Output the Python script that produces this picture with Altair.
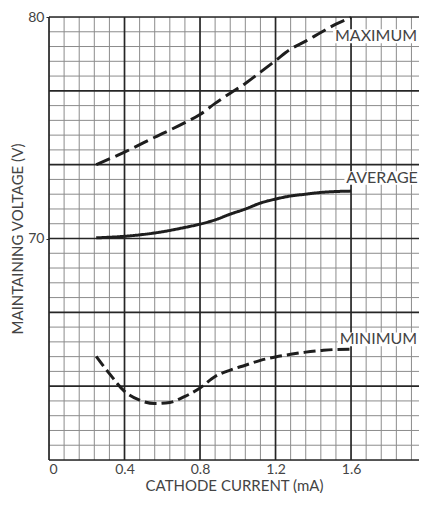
import altair as alt
import pandas as pd

# Curve data (cathode current mA, maintaining voltage V)
max_x = [0.25, 0.4, 0.56, 0.72, 0.8, 0.88, 0.96, 1.04, 1.12, 1.2, 1.28, 1.36, 1.44, 1.52, 1.6]
max_y = [73.33, 73.9, 74.57, 75.23, 75.6, 76.1, 76.56, 77.0, 77.51, 78.03, 78.55, 78.91, 79.3, 79.68, 79.97]

avg_x = [0.25, 0.4, 0.56, 0.72, 0.8, 0.88, 0.96, 1.04, 1.12, 1.2, 1.28, 1.36, 1.44, 1.52, 1.6]
avg_y = [70.03, 70.1, 70.25, 70.5, 70.65, 70.84, 71.1, 71.33, 71.6, 71.78, 71.92, 72.0, 72.08, 72.12, 72.14]

min_x = [0.25, 0.32, 0.4, 0.48, 0.56, 0.64, 0.72, 0.8, 0.88, 0.96, 1.04, 1.12, 1.2, 1.28, 1.36, 1.44, 1.52, 1.6]
min_y = [64.68, 63.9, 63.1, 62.7, 62.55, 62.6, 62.87, 63.25, 63.77, 64.06, 64.28, 64.5, 64.65, 64.77, 64.87, 64.94, 64.99, 65.0]

# Curve labels
label_text = ["MAXIMUM", "AVERAGE", "MINIMUM"]
label_x = [1.515, 1.575, 1.54]
label_y = [79.12, 72.74, 65.45]
box_x1 = [1.505, 1.565, 1.53]
box_x2 = [1.96, 1.96, 1.96]
box_y1 = [78.82, 72.43, 65.14]
box_y2 = [79.45, 73.04, 65.76]

# Grid and tick values
x_major = [0, 0.4, 0.8, 1.2, 1.6]
x_minor = [0.08, 0.16, 0.24, 0.32, 0.48, 0.56, 0.64, 0.72, 0.88, 0.96, 1.04, 1.12,
           1.28, 1.36, 1.44, 1.52, 1.68, 1.76, 1.84, 1.92]
y_major = [60, 63.333, 66.667, 70, 73.333, 76.667, 80]
y_minor = [60.667, 61.333, 62, 62.667, 64, 64.667, 65.333, 66, 67.333, 68, 68.667, 69.333,
           70.667, 71.333, 72, 72.667, 74, 74.667, 75.333, 76, 77.333, 78, 78.667, 79.333]
x_ticks = [0, 0.4, 0.8, 1.2, 1.6]
y_ticks = [70, 80]

FONT = "Lato"
INK = "#262626"
TXT = "#444444"

xs = alt.Scale(domain=[0, 1.96], nice=False, zero=False)
ys = alt.Scale(domain=[60, 80], nice=False, zero=False)

curves = pd.DataFrame(
    [{"x": a, "y": b, "s": "MAXIMUM", "o": i} for i, (a, b) in enumerate(zip(max_x, max_y))]
    + [{"x": a, "y": b, "s": "AVERAGE", "o": i} for i, (a, b) in enumerate(zip(avg_x, avg_y))]
    + [{"x": a, "y": b, "s": "MINIMUM", "o": i} for i, (a, b) in enumerate(zip(min_x, min_y))]
)
labels = pd.DataFrame({"t": label_text, "x": label_x, "y": label_y,
                       "bx1": box_x1, "bx2": box_x2, "by1": box_y1, "by2": box_y2})

x_axis = alt.Axis(values=x_ticks, grid=False, domain=False, ticks=False,
                  labelExpr="datum.value == 0 ? '0' : format(datum.value, '.1f')",
                  labelFont=FONT, labelFontSize=14, labelColor=TXT, labelPadding=2,
                  title="CATHODE CURRENT (mA)", titleFont=FONT, titleFontSize=15,
                  titleFontWeight="normal", titleColor=TXT, titlePadding=2)
y_axis = alt.Axis(values=y_ticks, grid=False, domain=False, ticks=True, tickSize=3,
                  tickColor=INK, format="d",
                  labelFont=FONT, labelFontSize=14, labelColor=TXT, labelPadding=2,
                  title="MAINTAINING VOLTAGE (V)", titleFont=FONT, titleFontSize=15,
                  titleFontWeight="normal", titleColor=TXT, titlePadding=2)


def X(field):
    return alt.X(field, scale=xs, axis=x_axis)


def Y(field):
    return alt.Y(field, scale=ys, axis=y_axis)


vminor = alt.Chart(pd.DataFrame({"v": x_minor})).mark_rule(color="#8c8c8c", strokeWidth=1).encode(
    x=X("v:Q"))
hminor = alt.Chart(pd.DataFrame({"v": y_minor})).mark_rule(color="#8c8c8c", strokeWidth=1).encode(
    y=Y("v:Q"))
vmajor = alt.Chart(pd.DataFrame({"v": x_major})).mark_rule(color=INK, strokeWidth=1.7).encode(
    x=X("v:Q"))
hmajor = alt.Chart(pd.DataFrame({"v": y_major})).mark_rule(color=INK, strokeWidth=1.7).encode(
    y=Y("v:Q"))


def curve(name, dash):
    d = curves[curves.s == name]
    m = alt.Chart(d).mark_line(color="#1e1e1e", strokeWidth=3, interpolate="monotone",
                               strokeDash=dash if dash else [1, 0])
    return m.encode(x=X("x:Q"), y=Y("y:Q"), order="o:Q")


c_max = curve("MAXIMUM", [15, 6])
c_avg = curve("AVERAGE", None)
c_min = curve("MINIMUM", [12, 5])

boxes = alt.Chart(labels).mark_rect(color="white").encode(
    x=X("bx1:Q"), x2="bx2:Q", y=Y("by1:Q"), y2="by2:Q")
texts = alt.Chart(labels).mark_text(align="left", baseline="middle", font=FONT,
                                    fontSize=16, color=TXT).encode(
    x=X("x:Q"), y=Y("y:Q"), text="t:N")

chart = alt.layer(vminor, hminor, vmajor, hmajor, c_max, c_avg, c_min, boxes, texts).properties(
    width=370, height=443,
    autosize=alt.AutoSizeParams(type="none"),
    padding={"left": 41, "top": 9, "right": 0, "bottom": 33},
).configure_view(stroke=None).configure(background="white")

chart.save("out.html", embed_options={"renderer": "svg", "actions": False})
